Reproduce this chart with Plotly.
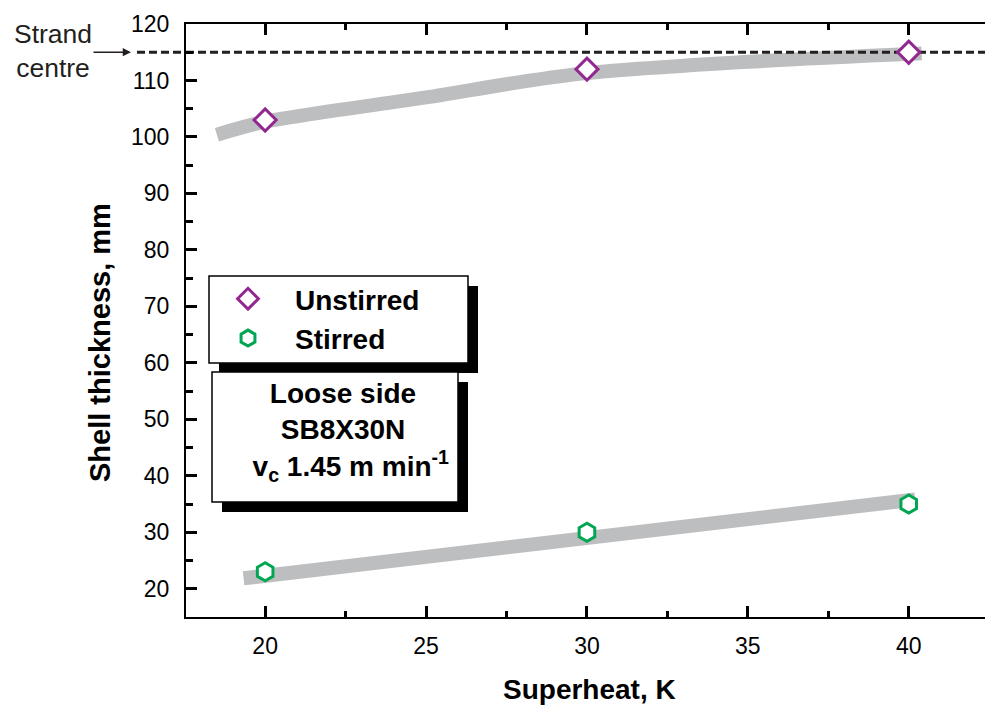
import plotly.graph_objects as go

# ---- data ----
superheat = [20, 30, 40]
unstirred = [103, 112, 115]
stirred = [23, 30, 35]

trend_unstirred_x = [18.5, 20, 25, 28, 30, 35, 40.4]
trend_unstirred_y = [100.4, 102.7, 107.0, 109.8, 111.3, 113.3, 114.8]
trend_stirred_x = [19.33, 40.2]
trend_stirred_y = [21.85, 35.8]

strand_centre = 115

x_range = [17.54, 42.37]
y_range = [15, 120]

# ---- layout geometry (pixels) ----
W, H = 985, 711
L, R, T, B = 186, 985, 24, 617
PW, PH = R - L, B - T


def px(x):
    return (x - L) / PW


def py(y):
    return (B - y) / PH


FONT = "Liberation Sans, Arial, sans-serif"
INK = "#231F20"
GREY = "#BCBEC0"
PURPLE = "#92278F"
GREEN = "#00A651"

fig = go.Figure()

fig.add_trace(go.Scatter(x=trend_unstirred_x, y=trend_unstirred_y, mode="lines",
                         line=dict(color=GREY, width=14, shape="spline", smoothing=0.8),
                         showlegend=False, hoverinfo="skip"))
fig.add_trace(go.Scatter(x=trend_stirred_x, y=trend_stirred_y, mode="lines",
                         line=dict(color=GREY, width=14),
                         showlegend=False, hoverinfo="skip"))
fig.add_trace(go.Scatter(x=x_range, y=[strand_centre, strand_centre], mode="lines",
                         line=dict(color=INK, width=3, dash="8px,4px"),
                         showlegend=False, hoverinfo="skip"))

fig.add_trace(go.Scatter(x=superheat, y=unstirred, mode="markers", name="Unstirred",
                         marker=dict(symbol="diamond", size=17, color="white",
                                     line=dict(color=PURPLE, width=3))))
fig.add_trace(go.Scatter(x=superheat, y=stirred, mode="markers", name="Stirred",
                         marker=dict(symbol="hexagon", size=18, color="white",
                                     line=dict(color=GREEN, width=3))))

shapes = []
shapes.append(dict(type="line", xref="paper", yref="y", x0=px(137), x1=0,
                   y0=strand_centre, y1=strand_centre,
                   line=dict(color=INK, width=3, dash="8px,4px"), layer="below"))


def box(x0, y0, x1, y1, sh=10):
    return [
        dict(type="rect", xref="paper", yref="paper", x0=px(x0 + sh), x1=px(x1 + sh),
             y0=py(y1 + sh), y1=py(y0 + sh), fillcolor="black",
             line=dict(width=0), layer="below"),
        dict(type="rect", xref="paper", yref="paper", x0=px(x0), x1=px(x1),
             y0=py(y1), y1=py(y0), fillcolor="white",
             line=dict(color="black", width=1.5), layer="below"),
    ]


shapes += box(209, 276, 468, 363, 10)
shapes += box(212, 372, 458, 502, 10)

annotations = [
    dict(text="Superheat, K", xref="paper", yref="paper", x=px(589), y=py(689),
         showarrow=False, xanchor="center", yanchor="middle",
         font=dict(family=FONT, size=28, color="black", weight="bold")),
    dict(text="Shell thickness, mm", xref="paper", yref="paper", x=px(100), y=py(343),
         showarrow=False, xanchor="center", yanchor="middle", textangle=-90,
         font=dict(family=FONT, size=29, color="black", weight="bold")),
    dict(text="Strand<br>centre", xref="paper", yref="paper", x=px(53), y=py(51.5),
         showarrow=False, xanchor="center", yanchor="middle", align="center",
         font=dict(family=FONT, size=26.5, color=INK)),
    dict(text="", xref="paper", yref="y", x=px(131), y=strand_centre,
         ax=92 - 131, ay=0, axref="pixel", ayref="pixel", showarrow=True,
         arrowhead=2, arrowsize=1.1, arrowwidth=1.5, arrowcolor=INK),
    dict(text="Loose side<br>SB8X30N<br>&nbsp;&nbsp;v<sub>c</sub> 1.45 m min<sup>-1</sup>",
         xref="paper", yref="paper", x=px(343), y=py(432), showarrow=False,
         xanchor="center", yanchor="middle", align="center",
         font=dict(family=FONT, size=28, color="black", weight="bold")),
]

tfont = dict(family=FONT, size=23, color="black")
TW = 2.5

fig.update_layout(
    width=W, height=H,
    margin=dict(l=L, r=W - R, t=T, b=H - B),
    paper_bgcolor="white", plot_bgcolor="rgba(0,0,0,0)",
    showlegend=True,
    legend=dict(x=px(201), y=py(274), xanchor="left", yanchor="top",
                bgcolor="rgba(0,0,0,0)", borderwidth=0, itemwidth=84,
                font=dict(family=FONT, size=28, color="black", weight="bold"),
                tracegroupgap=0),
    xaxis=dict(range=x_range, tickmode="linear", tick0=20, dtick=5,
               ticks="inside", ticklen=11, tickwidth=TW, tickcolor="black",
               mirror="ticks", showline=True, linecolor="black", linewidth=2,
               showgrid=False, zeroline=False, tickfont=tfont, ticklabelstandoff=7,
               minor=dict(ticks="inside", ticklen=6, tickwidth=TW, tickcolor="black",
                          dtick=2.5, tick0=20)),
    xaxis2=dict(range=x_range, overlaying="x", anchor="y", side="bottom",
                tickmode="linear", tick0=20, dtick=5, ticks="outside", ticklen=11,
                tickwidth=TW, tickcolor="black", showline=False, showticklabels=False,
                showgrid=False, zeroline=False,
                minor=dict(ticks="outside", ticklen=6, tickwidth=TW, tickcolor="black",
                           dtick=2.5, tick0=20)),
    yaxis=dict(range=y_range, tickmode="linear", tick0=20, dtick=10,
               ticks="inside", ticklen=11, tickwidth=TW, tickcolor="black",
               showline=True, linecolor="black", linewidth=2,
               showgrid=False, zeroline=False, tickfont=tfont, ticklabelstandoff=10,
               minor=dict(ticks="inside", ticklen=7, tickwidth=TW, tickcolor="black",
                          dtick=5, tick0=20)),
    yaxis2=dict(range=y_range, overlaying="y", anchor="x", side="right",
                tickmode="linear", tick0=20, dtick=10, ticks="inside", ticklen=9,
                tickwidth=TW, tickcolor="black", showline=False, showticklabels=False,
                showgrid=False, zeroline=False,
                minor=dict(ticks="inside", ticklen=3, tickwidth=TW, tickcolor="black",
                           dtick=5, tick0=20)),
    shapes=shapes,
    annotations=annotations,
)

fig.write_html("out.html")
